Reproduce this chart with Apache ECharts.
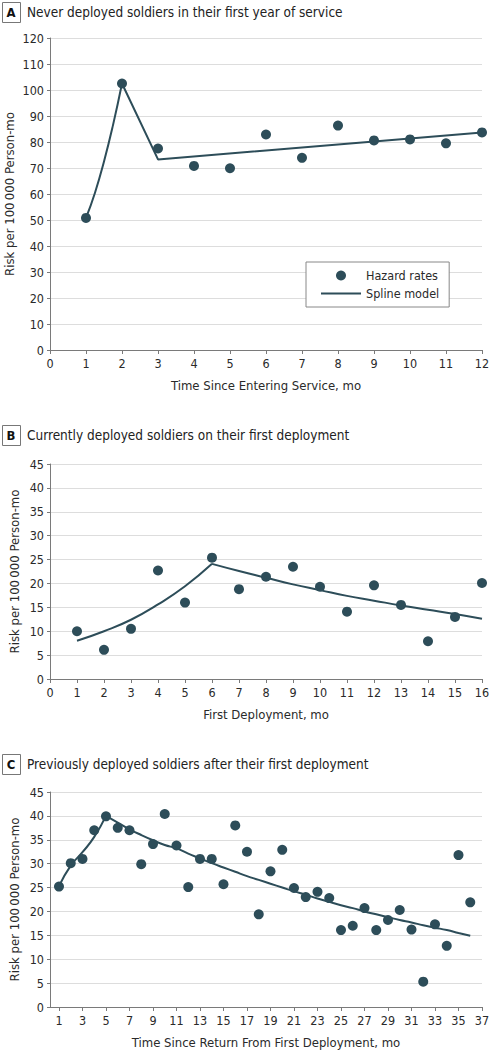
<!DOCTYPE html>
<html><head><meta charset="utf-8">
<script src="https://cdn.jsdelivr.net/npm/echarts@6/dist/echarts.min.js"></script>
<style>html,body{margin:0;padding:0;background:#fff}#c{width:489px;height:1050px}</style>
</head><body><div id="c"></div>
<script>
// ---- Panel A ----
const titleA = 'Never deployed soldiers in their first year of service';
const xNameA = 'Time Since Entering Service, mo';
const monthsA = [1,2,3,4,5,6,7,8,9,10,11,12];
const hazardA = [50.8,102.5,77.5,70.8,69.9,82.9,73.9,86.3,80.6,81.0,79.5,83.7];
const splineA1X = [1,1.25,1.5,1.75,2];
const splineA1Y = [50.8,60.5,72.5,86.5,102.5];
const splineA2X = [2,3,12];
const splineA2Y = [102.5,73.3,83.7];
// ---- Panel B ----
const titleB = 'Currently deployed soldiers on their first deployment';
const xNameB = 'First Deployment, mo';
const monthsB = [1,2,3,4,5,6,7,8,9,10,11,12,13,14,15,16];
const hazardB = [10.0,6.1,10.5,22.7,16.0,25.4,18.8,21.4,23.5,19.3,14.1,19.6,15.5,7.9,13.0,20.1];
const splineB1X = [1,2,3,4,5,6];
const splineB1Y = [8.0,10.0,12.4,15.6,19.4,24.1];
const splineB2X = [6,7,8,9,10,11,12,13,14,15,16];
const splineB2Y = [24.1,22.6,21.2,19.8,18.6,17.4,16.4,15.4,14.5,13.6,12.6];
// ---- Panel C ----
const titleC = 'Previously deployed soldiers after their first deployment';
const xNameC = 'Time Since Return From First Deployment, mo';
const monthsC = [1,2,3,4,5,6,7,8,9,10,11,12,13,14,15,16,17,18,19,20,21,22,23,24,25,26,27,28,29,30,31,32,33,34,35,36];
const hazardC = [25.2,30.1,31.0,37.0,39.9,37.5,37.0,29.9,34.1,40.4,33.8,25.1,31.0,31.0,25.7,38.0,32.5,19.4,28.4,32.9,24.9,23.0,24.1,22.8,16.1,17.0,20.7,16.1,18.2,20.3,16.2,5.3,17.3,12.8,31.8,21.9];
const splineC1X = [1,2,3,4,5];
const splineC1Y = [25.3,29.6,32.4,35.6,40.0];
const splineC2X = [5,6,7,8,9,10,11,12,13,14,15,16,17,18,19,20,21,22,23,24,25,26,27,28,29,30,31,32,33,34,35,36];
const splineC2Y = [40.0,38.6,37.2,36.0,34.9,33.9,33.2,32.1,31.1,30.1,29.2,28.3,27.4,26.6,25.8,25.0,24.2,23.5,22.7,22.0,21.3,20.7,20.0,19.4,18.8,18.2,17.7,17.1,16.6,16.1,15.5,14.9];
const ticksC = [1,3,5,7,9,11,13,15,17,19,21,23,25,27,29,31,33,35,37];
const yName = 'Risk per 100\u2009000 Person-mo';
const legendNames = ['Hazard rates','Spline model'];

const FONT = '"DejaVu Sans Condensed","Liberation Sans Narrow",sans-serif';
const DARK = '#2d4d59';
const AXIS = '#7a7a7a';
const GRIDC = '#dddddd';
const TXT = '#2a2a2a';
const TICK_FS = 12.5, NAME_FS = 13, TITLE_FS = 13.5;

const zip = (xs, ys) => xs.map((x, i) => [x, ys[i]]);

function xAxis(gi, min, max, interval, name, extra) {
  const a = {
    type: 'value', gridIndex: gi, min: min, max: max,
    name: name, nameLocation: 'middle', nameGap: 29,
    nameTextStyle: { fontFamily: FONT, fontSize: NAME_FS, color: TXT },
    axisLine: { show: true, onZero: false, lineStyle: { color: AXIS, width: 1 } },
    axisTick: { show: true, length: 4, lineStyle: { color: AXIS } },
    axisLabel: { fontFamily: FONT, fontSize: TICK_FS, color: TXT, margin: 7 },
    splitLine: { show: false }
  };
  if (interval != null) a.interval = interval;
  return Object.assign(a, extra || {});
}
function yAxis(gi, max, interval, gap) {
  return {
    type: 'value', gridIndex: gi, min: 0, max: max, interval: interval,
    name: yName, nameLocation: 'middle', nameGap: gap, nameRotate: 90, nameMoveOverlap: false,
    nameTextStyle: { fontFamily: FONT, fontSize: NAME_FS, color: TXT },
    axisLine: { show: true, lineStyle: { color: AXIS, width: 1 } },
    axisTick: { show: true, length: 3, lineStyle: { color: AXIS } },
    axisLabel: { fontFamily: FONT, fontSize: TICK_FS, color: TXT, margin: 6 },
    splitLine: { show: true, lineStyle: { color: GRIDC, width: 1.2 } }
  };
}
function scatter(i, xs, ys) {
  return { name: legendNames[0], type: 'scatter', xAxisIndex: i, yAxisIndex: i,
    data: zip(xs, ys), symbol: 'circle', symbolSize: 10, z: 5,
    itemStyle: { color: DARK, opacity: 1 } };
}
function spline(i, xs, ys, smooth) {
  return { name: legendNames[1], type: 'line', xAxisIndex: i, yAxisIndex: i,
    data: zip(xs, ys), symbol: 'none', smooth: smooth, z: 3,
    lineStyle: { color: DARK, width: 2 }, itemStyle: { color: DARK } };
}
function header(y, letter, text) {
  return [
    { type: 'rect', left: 2, top: y - 10, shape: { width: 18, height: 20 },
      style: { fill: '#fff', stroke: '#777', lineWidth: 1 } },
    { type: 'text', x: 11, y: y, style: { text: letter, fontFamily: FONT, fontWeight: 'bold',
      fontSize: 13, fill: '#111', align: 'center', verticalAlign: 'middle' } },
    { type: 'text', x: 27, y: y, style: { text: text, fontFamily: FONT, fontSize: TITLE_FS,
      fill: '#222', align: 'left', verticalAlign: 'middle' } }
  ];
}

const chart = echarts.init(document.getElementById('c'), null, { renderer: 'svg' });
chart.setOption({
  animation: false,
  backgroundColor: '#fff',
  textStyle: { fontFamily: FONT },
  graphic: [].concat(header(12, 'A', titleA), header(435, 'B', titleB), header(764, 'C', titleC)),
  grid: [
    { left: 50, width: 432, top: 38, height: 312, containLabel: false, outerBoundsMode: 'none' },
    { left: 50, width: 432, top: 464, height: 215, containLabel: false, outerBoundsMode: 'none' },
    { left: 50, width: 432, top: 792, height: 215, containLabel: false, outerBoundsMode: 'none' }
  ],
  xAxis: [
    xAxis(0, 0, 12, 1, xNameA),
    xAxis(1, 0, 16, 1, xNameB),
    xAxis(2, 0.235, 37, null, xNameC, {
      axisTick: { show: true, length: 4, lineStyle: { color: AXIS }, customValues: ticksC },
      axisLabel: { fontFamily: FONT, fontSize: TICK_FS, color: TXT, margin: 7, customValues: ticksC }
    })
  ],
  yAxis: [ yAxis(0, 120, 10, 34), yAxis(1, 45, 5, 29), yAxis(2, 45, 5, 29) ],
  legend: {
    data: [ { name: legendNames[0] }, { name: legendNames[1], itemStyle: { opacity: 0 } } ],
    orient: 'vertical', left: 306, top: 262,
    padding: [7, 10, 7, 14], itemGap: 5, itemWidth: 40, itemHeight: 10,
    borderColor: '#888', borderWidth: 1, backgroundColor: '#fff',
    textStyle: { fontFamily: FONT, fontSize: 12.5, color: TXT }
  },
  series: [
    scatter(0, monthsA, hazardA),
    spline(0, splineA1X, splineA1Y, true),
    spline(0, splineA2X, splineA2Y, false),
    scatter(1, monthsB, hazardB),
    spline(1, splineB1X, splineB1Y, true),
    spline(1, splineB2X, splineB2Y, true),
    scatter(2, monthsC, hazardC),
    spline(2, splineC1X, splineC1Y, true),
    spline(2, splineC2X, splineC2Y, true)
  ]
});
</script></body></html>
